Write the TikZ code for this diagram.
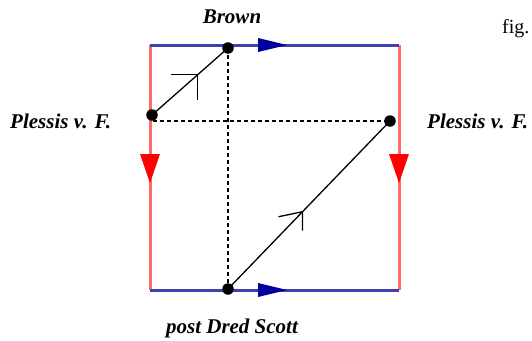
\documentclass[tikz,border=0pt]{standalone}
\usepackage{fontspec}
\setmainfont{Liberation Serif}
\usetikzlibrary{calc}
\definecolor{edgered}{HTML}{FF6A6A}
\definecolor{edgeblue}{HTML}{4040B0}
\definecolor{arrblue}{HTML}{0000A0}
\definecolor{arrred}{HTML}{FF0000}
\begin{document}
\begin{tikzpicture}[x=1pt,y=-1pt,
  dot/.style={circle,fill=black,inner sep=0pt,minimum size=11.5pt},
  lbl/.style={font=\fontsize{21}{24}\selectfont\bfseries\itshape,inner sep=0pt},
  redge/.style={edgered,line width=3pt},
  bedge/.style={edgeblue,line width=3pt},
  dline/.style={black,line width=1.1pt,dash pattern=on 4pt off 3pt},
  sline/.style={black,line width=1.3pt},
  dirmark/.style={black,line width=1.3pt}]
\useasboundingbox (0,0) rectangle (532,340);
% square corners
\coordinate (tl) at (150,45);
\coordinate (tr) at (399,45);
\coordinate (bl) at (150,290);
\coordinate (br) at (399,290);
\draw[redge] (tl) -- (bl);
\draw[redge] (tr) -- (br);
\draw[bedge] (tl) -- (tr);
\draw[bedge] (bl) -- (br);
% edge arrows
\fill[arrblue] (258,38) -- (287,45) -- (258,52) -- cycle;
\fill[arrblue] (258,283) -- (287,290) -- (258,297) -- cycle;
\fill[arrred] (140,154) -- (160,154) -- (150,183) -- cycle;
\fill[arrred] (389,154) -- (409,154) -- (399,183) -- cycle;
% dots
\node[dot] (B) at (228,48) {};
\node[dot] (L) at (152,115) {};
\node[dot] (R) at (390,121) {};
\node[dot] (D) at (228,289) {};
% dashed lines
\draw[dline] (L.center) -- (R.center -| L.center) -- (R.center);
\draw[dline] (B.center) -- (D.center);
% solid lines with marks
\draw[sline] (L.center) -- (B.center) coordinate[pos=0.6] (m1);
\draw[sline] (D.center) -- (R.center) coordinate[pos=0.46] (m2);
\draw[dirmark] ($(m1)+(-27,0)$) -- (m1) -- ($(m1)+(0,25)$);
\draw[dirmark] ($(m2)+(-24,5)$) -- (m2) -- ($(m2)+(0,19)$);
% labels
\node[lbl,anchor=base] (tB) at (232,23) {Brown};
\node[lbl,anchor=base west] (tL) at (10,128) {Plessis v. F.};
\node[lbl,anchor=base west] (tR) at (427,128) {Plessis v. F.};
\node[lbl,anchor=base] (tD) at (232,333) {post Dred Scott};
\node[font=\fontsize{20}{24}\selectfont,inner sep=0pt,anchor=base west] (fig) at (502,33) {fig.};
\end{tikzpicture}
\end{document}
